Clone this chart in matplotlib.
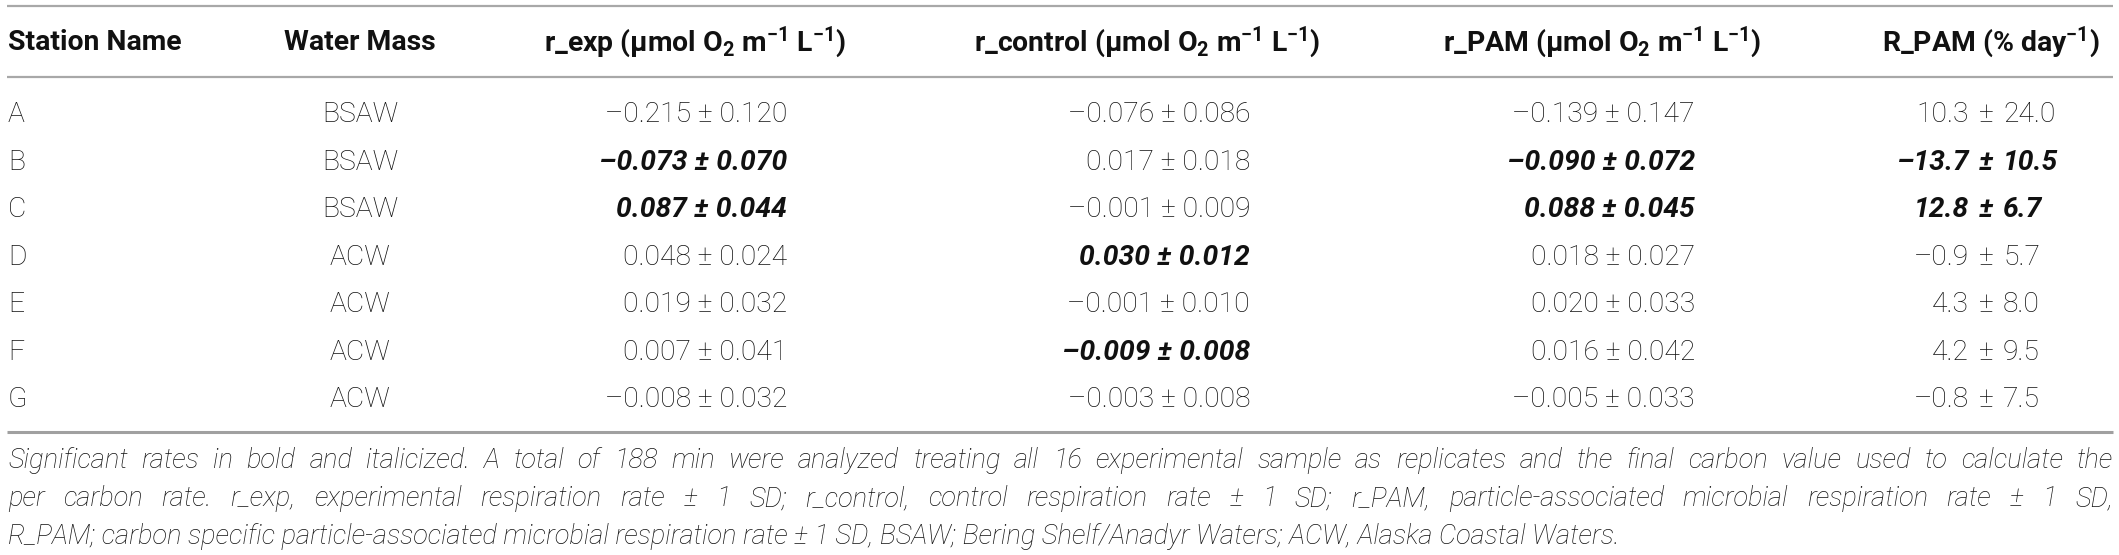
import matplotlib
matplotlib.use('Agg')
import matplotlib.pyplot as plt

# ---------------- data ----------------
stations = ['A', 'B', 'C', 'D', 'E', 'F', 'G']
water_mass = ['BSAW', 'BSAW', 'BSAW', 'ACW', 'ACW', 'ACW', 'ACW']

r_exp = [-0.215, -0.073, 0.087, 0.048, 0.019, 0.007, -0.008]
r_exp_sd = [0.120, 0.070, 0.044, 0.024, 0.032, 0.041, 0.032]
r_exp_sig = [False, True, True, False, False, False, False]

r_control = [-0.076, 0.017, -0.001, 0.030, -0.001, -0.009, -0.003]
r_control_sd = [0.086, 0.018, 0.009, 0.012, 0.010, 0.008, 0.008]
r_control_sig = [False, False, False, True, False, True, False]

r_pam = [-0.139, -0.090, 0.088, 0.018, 0.020, 0.016, -0.005]
r_pam_sd = [0.147, 0.072, 0.045, 0.027, 0.033, 0.042, 0.033]
r_pam_sig = [False, True, True, False, False, False, False]

R_pam = [10.3, -13.7, 12.8, -0.9, 4.3, 4.2, -0.8]
R_pam_sd = [24.0, 10.5, 6.7, 5.7, 8.0, 9.5, 7.5]
R_pam_sig = [False, True, True, False, False, False, False]

headers = ['Station Name', 'Water Mass',
           'r_exp (μmol O$_2$ m$^{-1}$ L$^{-1}$)',
           'r_control (μmol O$_2$ m$^{-1}$ L$^{-1}$)',
           'r_PAM (μmol O$_2$ m$^{-1}$ L$^{-1}$)',
           'R_PAM (% day$^{-1}$)']

footnote = [
    "Significant rates in bold and italicized. A total of 188 min were analyzed treating all 16 experimental sample as replicates and the final carbon value used to calculate the",
    "per carbon rate. r_exp, experimental respiration rate ± 1 SD; r_control, control respiration rate ± 1 SD; r_PAM, particle-associated microbial respiration rate ± 1 SD,",
    "R_PAM; carbon specific particle-associated microbial respiration rate ± 1 SD, BSAW; Bering Shelf/Anadyr Waters; ACW, Alaska Coastal Waters.",
]

# ---------------- style ----------------
plt.rcParams['mathtext.default'] = 'regular'
FONT = ['Roboto', 'DejaVu Sans']
TXT = '#111111'
LINE = '#a8a8a8'

W, H = 2119, 555
fig = plt.figure(figsize=(W / 100, H / 100), dpi=100)
ax = fig.add_axes([0, 0, 1, 1])
ax.set_xlim(0, W)
ax.set_ylim(H, 0)
ax.axis('off')
renderer = fig.canvas.get_renderer()


def fmt(v, nd):
    s = f"{abs(v):.{nd}f}"
    return ('–' + s) if v < 0 else s


# rules
ax.hlines(5.5, 7, 2113, color=LINE, lw=1.6)
ax.hlines(77, 7, 2113, color=LINE, lw=1.6)
ax.hlines(432, 7, 2113, color='#a0a0a0', lw=2.2)

# header
hy = 50.5
hsize = 20.4
hx = [(8, 'left'), (360, 'center'), (695, 'center'), (1147, 'center'),
      (1602, 'center'), (1991, 'center')]
for (x, ha), h in zip(hx, headers):
    ax.text(x, hy, h, ha=ha, va='baseline', fontsize=hsize, fontweight='bold',
            family=FONT, color=TXT)

# body
bsize = 20.3
row0, dy = 122.3, 47.45
right_cols = [(r_exp, r_exp_sd, r_exp_sig, 787),
              (r_control, r_control_sd, r_control_sig, 1250),
              (r_pam, r_pam_sd, r_pam_sig, 1695)]

for i in range(len(stations)):
    y = row0 + i * dy
    ax.text(8, y, stations[i], ha='left', va='baseline', fontsize=bsize,
            fontweight='light', family=FONT, color=TXT)
    ax.text(360, y, water_mass[i], ha='center', va='baseline', fontsize=bsize,
            fontweight='light', family=FONT, color=TXT)
    for vals, sds, sig, xr in right_cols:
        s = f"{fmt(vals[i], 3)} ± {fmt(sds[i], 3)}"
        if sig[i]:
            ax.text(xr, y, s, ha='right', va='baseline', fontsize=bsize,
                    fontweight='bold', fontstyle='italic', family=FONT, color=TXT)
        else:
            ax.text(xr, y, s, ha='right', va='baseline', fontsize=bsize,
                    fontweight='light', family=FONT, color=TXT)
    # R_PAM aligned on the ± sign
    xpm = 1986
    kw = dict(va='baseline', fontsize=bsize, family=FONT, color=TXT)
    if R_pam_sig[i]:
        kw.update(fontweight='bold', fontstyle='italic')
    else:
        kw.update(fontweight='light')
    ax.text(xpm - 17, y, fmt(R_pam[i], 1), ha='right', **kw)
    ax.text(xpm, y, '±', ha='center', **kw)
    ax.text(xpm + 17, y, fmt(R_pam_sd[i], 1), ha='left', **kw)

# footnote (justified lines)
fkw = dict(va='baseline', family=FONT, fontweight='light', fontstyle='italic',
           color=TXT)
probe = ax.text(0, 0, footnote[2], fontsize=20, **fkw)
w3 = probe.get_window_extent(renderer).width
probe.remove()
fsize = 20 * 1607 / w3

fy = [468.3, 506.2, 544.0]
x0, x1 = 8, 2113
for li, line in enumerate(footnote):
    if li == 2:
        ax.text(x0, fy[li], line, ha='left', fontsize=fsize, **fkw)
        continue
    words = line.split(' ')
    widths = []
    for wd in words:
        t = ax.text(0, 0, wd, fontsize=fsize, **fkw)
        widths.append(t.get_window_extent(renderer).width)
        t.remove()
    gap = (x1 - x0 - sum(widths)) / (len(words) - 1)
    x = x0
    for wd, wdw in zip(words, widths):
        ax.text(x, fy[li], wd, ha='left', fontsize=fsize, **fkw)
        x += wdw + gap

fig.savefig('out.png', dpi=100, facecolor='white')
